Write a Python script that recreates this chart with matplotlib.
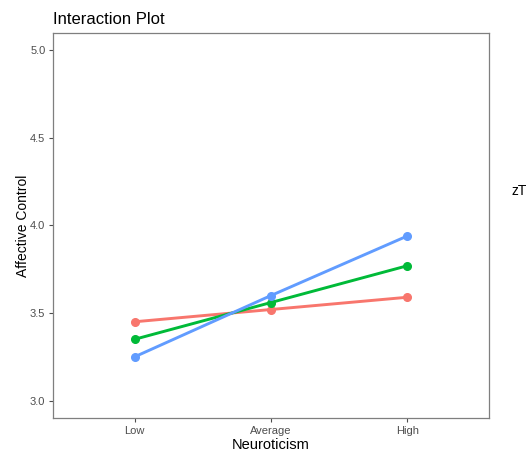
import numpy as np
import matplotlib.pyplot as plt

plt.rcParams["font.family"] = ["Liberation Sans", "DejaVu Sans"]

levels = ["Low", "Average", "High"]
low_z = [3.45, 3.52, 3.59]
mid_z = [3.35, 3.56, 3.77]
high_z = [3.25, 3.60, 3.94]
colors = ["#F8766D", "#00BA38", "#619CFF"]
yticks = [3.0, 3.5, 4.0, 4.5, 5.0]

fig = plt.figure(figsize=(5.26, 4.55), dpi=100)
ax = fig.add_axes([0.1008, 0.0813, 0.829, 0.8462])

x = np.arange(len(levels))
for vals, c in zip([low_z, mid_z, high_z], colors):
    ax.plot(x, vals, color=c, lw=2.1, marker="o", ms=5.5, solid_capstyle="butt")

ax.set_xlim(-0.6, 2.6)
ax.set_ylim(2.9, 5.1)
ax.set_xticks(x)
ax.set_xticklabels(levels)
ax.set_yticks(yticks)
ax.set_yticklabels([f"{v:.1f}" for v in yticks])
ax.tick_params(colors="#4D4D4D", labelsize=8, length=3, width=0.8, pad=2.5)
for s in ax.spines.values():
    s.set_color("#7F7F7F")
    s.set_linewidth(0.9)

ax.set_xlabel("Neuroticism", fontsize=10.5, labelpad=2)
ax.set_ylabel("Affective Control", fontsize=10, labelpad=0)
fig.text(0.1008, 0.94, "Interaction Plot", fontsize=12, ha="left", va="bottom")
fig.text(0.972, 0.581, "zT", fontsize=10, ha="left", va="center")

fig.savefig("out.png", dpi=100)
